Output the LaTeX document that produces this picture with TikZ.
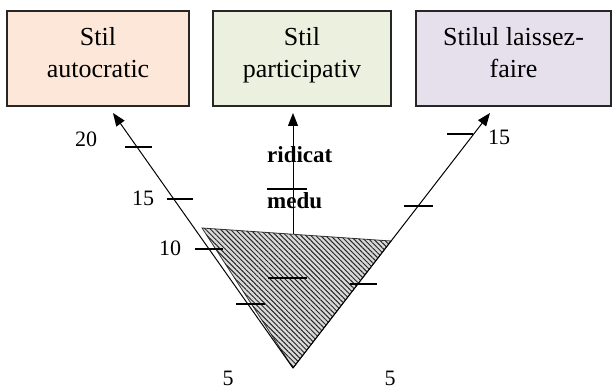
\documentclass[tikz,border=0pt]{standalone}
\usepackage{fontspec}
\setmainfont{Liberation Serif}
\usetikzlibrary{arrows.meta,patterns.meta}
\definecolor{cAuto}{RGB}{252,231,217}
\definecolor{cPart}{RGB}{235,241,222}
\definecolor{cLais}{RGB}{229,224,236}
\tikzset{
  >={Triangle[length=13pt,width=10pt]},
  stilbox/.style={draw=black!85,line width=1.3pt,minimum height=95pt,inner sep=2pt,
                  align=center,text depth=12pt,font=\fontsize{26}{32}\selectfont},
  axis/.style={->,line width=1pt},
  tickline/.style={line width=1.2pt},
  val/.style={font=\fontsize{22}{22}\selectfont,inner sep=0pt},
  level/.style={font=\fontsize{23}{23}\selectfont\bfseries,anchor=west,inner sep=0pt},
  zone/.style={draw=black!80,line width=0.8pt,fill=gray!30,
               postaction={pattern={Lines[angle=-45,distance=3.5pt,line width=1pt]},
                           pattern color=black!85}},
}

\begin{document}
\begin{tikzpicture}[x=1pt,y=-1pt]
  \useasboundingbox (0,0) rectangle (613,390);
  % the three styles
  \node[stilbox,fill=cAuto,minimum width=182pt] (auto) at (98,58.5)  {Stil\\autocratic};
  \node[stilbox,fill=cPart,minimum width=178pt] (part) at (302,58.5) {Stil\\participativ};
  \node[stilbox,fill=cLais,minimum width=195pt] (lais) at (513.5,58.5) {Stilul laissez-\\faire};

  % hatched zone
  \coordinate (zA) at (202,228);
  \coordinate (zB) at (391,241);
  \coordinate (v)  at (293,368);
  \coordinate (m0) at (293,234);
  \draw[zone] (zA) -- (zB) -- (v) -- cycle;

  % axes
  \coordinate (tipL) at (113,113);
  \coordinate (tipM) at (293,113);
  \coordinate (tipR) at (490,113);
  \draw[axis] (v)  -- (tipL);
  \draw[axis] (m0) -- (tipM);
  \draw[axis] (v)  -- (tipR);

  % ticks
  \draw[tickline] (125,147) -- (152,147);
  \draw[tickline] (167,199) -- (193,199);
  \draw[tickline] (195,249) -- (223,249);
  \draw[tickline] (236,304) -- (265,304);
  \draw[tickline] (267,189) -- (307,189);
  \draw[tickline] (268,278) -- (307,278);
  \draw[tickline] (447,134) -- (473,134);
  \draw[tickline] (404,206) -- (433,206);
  \draw[tickline] (350,284) -- (377,284);

  % values
  \node[val] (l20) at (86,139)  {20};
  \node[val] (l15) at (143,198) {15};
  \node[val] (l10) at (170,248) {10};
  \node[val] (l5)  at (228,378) {5};
  \node[val] (r5)  at (390,378) {5};
  \node[val] (r15) at (499,137) {15};
  \node[level] (hi)  at (267,155) {ridicat};
  \node[level] (mid) at (267,201) {medu};
\end{tikzpicture}
\end{document}
